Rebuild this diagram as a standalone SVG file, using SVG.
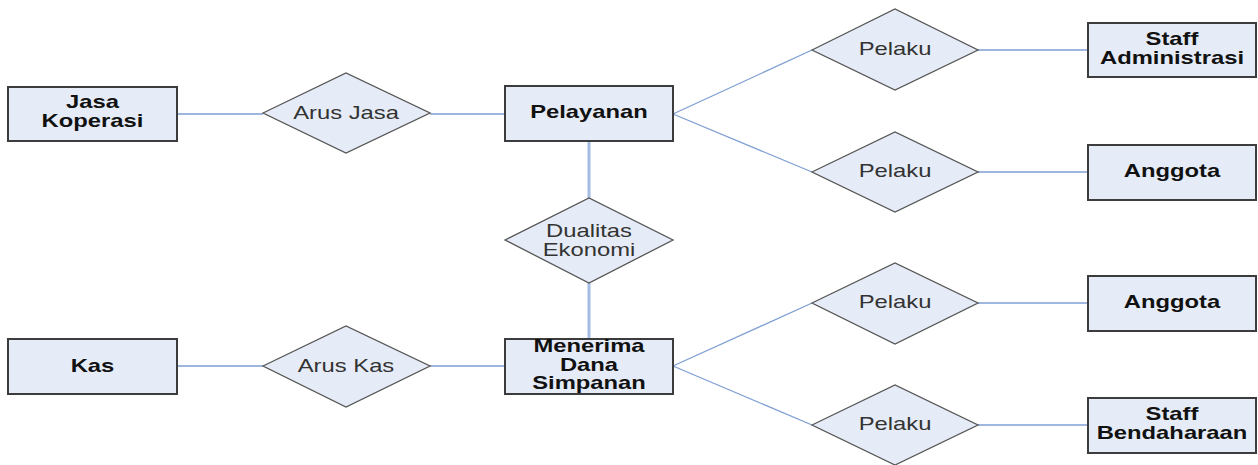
<svg xmlns="http://www.w3.org/2000/svg" width="1258" height="465" viewBox="0 0 1258 465">
<style>
.ent{fill:#e6ecf7;stroke:#3c3c3c;stroke-width:2}
.rel{fill:#e6ecf7;stroke:#555;stroke-width:1.3}
.et{font-family:"Liberation Sans",Arial,sans-serif;font-weight:bold;font-size:17.5px;fill:#111;text-anchor:middle}
.rt{font-family:"Liberation Sans",Arial,sans-serif;font-size:17.5px;fill:#333;text-anchor:middle}
.ln{stroke:#7f9fd3;stroke-width:1.3;fill:none}
.lv{stroke:#a3bde3;stroke-width:3;fill:none}
</style>
<rect width="1258" height="465" fill="#fff"/>
<g id="connectors">
<line class="ln" x1="177" y1="114" x2="263" y2="114"/>
<line class="ln" x1="430" y1="114" x2="505" y2="114"/>
<line class="ln" x1="177" y1="366" x2="263" y2="366"/>
<line class="ln" x1="430" y1="366" x2="505" y2="366"/>
<line class="lv" x1="589" y1="141" x2="589" y2="198"/>
<line class="lv" x1="589" y1="283" x2="589" y2="339"/>
<line class="ln" x1="673" y1="114" x2="812" y2="50"/>
<line class="ln" x1="673" y1="114" x2="812" y2="172"/>
<line class="ln" x1="673" y1="366" x2="812" y2="303"/>
<line class="ln" x1="673" y1="366" x2="812" y2="425"/>
<line class="ln" x1="978" y1="50" x2="1088" y2="50"/>
<line class="ln" x1="978" y1="172" x2="1088" y2="172"/>
<line class="ln" x1="978" y1="303" x2="1088" y2="303"/>
<line class="ln" x1="978" y1="425" x2="1088" y2="425"/>
</g>
<g id="jasa-koperasi"><rect class="ent" x="8" y="87" width="169" height="54"/><text class="et" transform="translate(92.5 108) scale(1.36 1)">Jasa</text><text class="et" transform="translate(92.5 127) scale(1.36 1)">Koperasi</text></g>
<g id="arus-jasa"><polygon class="rel" points="263,113 346,73 430,113 346,153"/><text class="rt" transform="translate(346 119) scale(1.36 1)">Arus Jasa</text></g>
<g id="pelayanan"><rect class="ent" x="505" y="86" width="168" height="55"/><text class="et" transform="translate(589 118) scale(1.36 1)">Pelayanan</text></g>
<g id="dualitas-ekonomi"><polygon class="rel" points="505,240 589,198 673,240 589,283"/><text class="rt" transform="translate(589 237) scale(1.36 1)">Dualitas</text><text class="rt" transform="translate(589 256) scale(1.36 1)">Ekonomi</text></g>
<g id="menerima-dana-simpanan"><rect class="ent" x="505" y="339" width="168" height="55"/><text class="et" transform="translate(589 352) scale(1.36 1)">Menerima</text><text class="et" transform="translate(589 370.5) scale(1.36 1)">Dana</text><text class="et" transform="translate(589 389) scale(1.36 1)">Simpanan</text></g>
<g id="kas"><rect class="ent" x="8" y="339" width="169" height="55"/><text class="et" transform="translate(92.5 372) scale(1.36 1)">Kas</text></g>
<g id="arus-kas"><polygon class="rel" points="263,366 346,326 430,366 346,407"/><text class="rt" transform="translate(346 372) scale(1.36 1)">Arus Kas</text></g>
<g id="pelaku-1"><polygon class="rel" points="812,50 895,9 978,50 895,90"/><text class="rt" transform="translate(895 55) scale(1.36 1)">Pelaku</text></g>
<g id="pelaku-2"><polygon class="rel" points="812,172 895,132 978,172 895,212"/><text class="rt" transform="translate(895 177) scale(1.36 1)">Pelaku</text></g>
<g id="pelaku-3"><polygon class="rel" points="812,303 895,263 978,303 895,344"/><text class="rt" transform="translate(895 308) scale(1.36 1)">Pelaku</text></g>
<g id="pelaku-4"><polygon class="rel" points="812,425 895,385 978,425 895,465"/><text class="rt" transform="translate(895 430) scale(1.36 1)">Pelaku</text></g>
<g id="staff-administrasi"><rect class="ent" x="1088" y="23" width="168" height="54"/><text class="et" transform="translate(1172 45) scale(1.36 1)">Staff</text><text class="et" transform="translate(1172 64) scale(1.36 1)">Administrasi</text></g>
<g id="anggota-1"><rect class="ent" x="1088" y="145" width="168" height="55"/><text class="et" transform="translate(1172 177) scale(1.36 1)">Anggota</text></g>
<g id="anggota-2"><rect class="ent" x="1088" y="276" width="168" height="55"/><text class="et" transform="translate(1172 308) scale(1.36 1)">Anggota</text></g>
<g id="staff-bendaharaan"><rect class="ent" x="1088" y="398" width="168" height="55"/><text class="et" transform="translate(1172 420) scale(1.36 1)">Staff</text><text class="et" transform="translate(1172 439) scale(1.36 1)">Bendaharaan</text></g>
</svg>
